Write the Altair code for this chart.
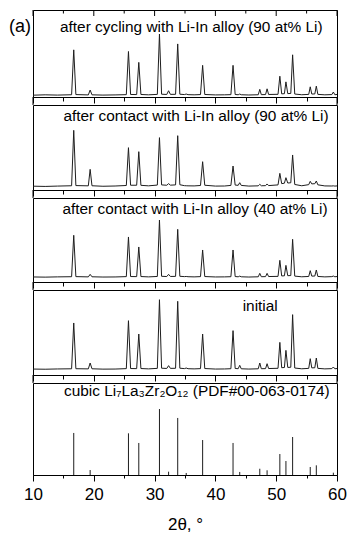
import altair as alt
import pandas as pd

# ---------------- data ----------------
# shared 2-theta grid (degrees) for the measured patterns
two_theta = [10.0, 12.0, 14.0, 16.35, 16.7, 17.05, 19.1, 19.4, 19.7, 21.5,
             23.5, 25.35, 25.7, 26.05, 27.05, 27.4, 27.75, 29.0, 30.45, 30.8,
             31.15, 32.0, 32.3, 32.6, 33.45, 33.8, 34.15, 34.9, 35.2, 35.5,
             36.5, 37.55, 37.9, 38.25, 40.0, 41.5, 42.55, 42.9, 43.25, 43.75,
             44.0, 44.25, 45.5, 47.05, 47.3, 47.55, 48.25, 48.5, 48.75, 50.3,
             50.6, 50.9, 51.35, 51.6, 51.9, 52.4, 52.7, 53.05, 54.2, 55.35,
             55.6, 55.85, 56.35, 56.6, 56.85, 58.0, 59.15, 59.4, 59.65, 60.0]

cycled_90 = [2.1, 2.5, 2.2, 2.6, 54.2, 2.8, 2.4, 8.0, 2.5, 2.2,
             2.4, 2.7, 52.3, 2.9, 2.8, 39.8, 2.9, 2.5, 3.0, 72.4,
             3.2, 2.9, 7.2, 3.0, 3.1, 61.0, 3.2, 2.8, 3.4, 2.7,
             2.5, 2.8, 36.4, 2.9, 2.4, 2.5, 2.7, 36.4, 2.9, 2.6,
             3.4, 2.6, 2.3, 2.6, 8.8, 2.7, 2.8, 9.4, 2.9, 3.1,
             23.9, 3.6, 3.8, 17.4, 3.9, 4.1, 48.5, 3.4, 2.6, 3.0,
             11.7, 3.4, 3.5, 12.5, 3.0, 2.5, 2.8, 5.7, 2.6, 2.9]

contact_90 = [4.5, 4.2, 4.6, 5.0, 70.2, 5.2, 4.9, 24.3, 5.0, 4.4,
              4.7, 5.3, 49.8, 5.6, 5.6, 45.1, 5.5, 4.9, 5.8, 61.6,
              6.0, 5.6, 7.5, 5.7, 6.0, 63.9, 6.2, 5.1, 5.0, 4.9,
              4.8, 5.3, 33.3, 5.6, 4.6, 4.7, 5.4, 28.2, 5.8, 5.5,
              8.6, 5.4, 4.6, 4.9, 6.7, 5.0, 5.1, 7.1, 5.2, 6.0,
              19.6, 7.5, 8.0, 14.5, 8.2, 8.5, 41.2, 6.5, 5.0, 6.3,
              10.2, 7.2, 7.4, 10.6, 6.1, 4.8, 4.7, 4.9, 4.6, 4.8]

contact_40 = [6.0, 5.8, 6.1, 6.3, 55.6, 6.4, 6.1, 9.1, 6.2, 5.9,
              6.0, 6.4, 53.6, 6.5, 6.4, 41.7, 6.5, 6.1, 6.6, 73.8,
              6.8, 6.5, 9.1, 6.6, 6.7, 62.7, 6.8, 6.4, 6.6, 6.3,
              6.1, 6.4, 38.1, 6.5, 6.0, 6.1, 6.3, 38.1, 6.5, 6.2,
              7.0, 6.2, 5.9, 6.2, 10.3, 6.3, 6.4, 10.3, 6.5, 6.7,
              25.8, 7.2, 7.4, 19.8, 7.5, 7.7, 50.8, 7.0, 6.2, 6.6,
              13.5, 7.0, 7.1, 14.3, 6.6, 6.1, 6.4, 7.1, 6.2, 6.5]

initial = [7.0, 6.8, 7.1, 7.3, 61.2, 7.4, 7.2, 14.1, 7.3, 6.9,
           7.0, 7.5, 63.9, 7.6, 7.5, 48.2, 7.6, 7.2, 7.8, 88.6,
           8.0, 7.7, 11.0, 7.8, 7.9, 86.7, 8.0, 7.5, 8.2, 7.4,
           7.2, 7.5, 48.2, 7.6, 7.0, 7.1, 7.4, 52.2, 7.7, 7.4,
           11.4, 7.3, 7.0, 7.3, 14.1, 7.4, 7.5, 13.3, 7.6, 7.9,
           38.4, 8.6, 8.8, 29.0, 8.9, 9.1, 71.0, 8.2, 7.3, 7.8,
           19.2, 8.4, 8.5, 20.0, 7.8, 7.2, 7.5, 9.4, 7.3, 7.6]

# reference stick pattern (cubic LLZO, PDF#00-063-0174)
ref_two_theta = [16.7, 19.4, 25.7, 27.4, 30.8, 32.3, 33.8, 35.2, 37.9, 42.9,
                 44.0, 47.3, 48.5, 50.6, 51.6, 52.7, 55.6, 56.6, 59.4]
ref_intensity = [45.7, 5.4, 45.3, 34.8, 71.7, 3.6, 62.0, 2.2, 38.0, 34.8,
                 3.3, 6.8, 5.1, 22.8, 15.2, 41.3, 8.7, 10.5, 2.5]

panel_labels = ["after cycling with Li-In alloy (90 at% Li)",
                "after contact with Li-In alloy (90 at% Li)",
                "after contact with Li-In alloy (40 at% Li)",
                "initial",
                "cubic Li\u2087La\u2083Zr\u2082O\u2081\u2082 (PDF#00-063-0174)"]

major_ticks = [10, 20, 30, 40, 50, 60]
minor_ticks = [15, 25, 35, 45, 55]
all_ticks = [10, 15, 20, 25, 30, 35, 40, 45, 50, 55, 60]
x_title = "2\u03b8, \u00b0"
panel_tag = "(a)"

# ---------------- layout / style ----------------
W = 304
GAP = 8
FONT = "Liberation Sans"
INK = "#1e1e1e"
X_SCALE = alt.Scale(domain=[10, 60], nice=False, zero=False)
Y_SCALE = alt.Scale(domain=[0, 100], nice=False, zero=False)


def x_axis(show_labels, minor_len):
    kw = dict(values=all_ticks, grid=False, domain=True, domainColor="black",
              domainWidth=1, tickColor="black", tickWidth=1,
              tickSize={"condition": {"test": "datum.value % 10 === 0", "value": 6},
                        "value": minor_len})
    if show_labels:
        kw.update(labels=True, labelExpr="datum.value % 10 === 0 ? datum.label : ''",
                  labelFlush=False, labelOverlap=False, labelBound=False,
                  labelFont=FONT, labelFontSize=17, labelColor="black", labelPadding=5,
                  title=x_title, titleFont=FONT, titleFontSize=17,
                  titleFontWeight="normal", titleColor="black", titlePadding=14)
    else:
        kw.update(labels=False, title=None)
    return alt.Axis(**kw)


def side_lines(H):
    one = pd.DataFrame({"s": [0]})
    left = alt.Chart(one).mark_rule(color="black", strokeWidth=1).encode(
        x=alt.value(0), y=alt.value(H), y2=alt.value(H + GAP))
    right = alt.Chart(one).mark_rule(color="black", strokeWidth=1).encode(
        x=alt.value(W), y=alt.value(H), y2=alt.value(H + GAP))
    return [left, right]


def label_layer(text, tx, ty, size=15.4):
    return alt.Chart(pd.DataFrame({"t": [text]})).mark_text(
        align="left", baseline="alphabetic", font=FONT, fontSize=size, color="black"
    ).encode(text="t:N", x=alt.value(tx), y=alt.value(ty))


def pattern_panel(values, text, tx, ty, H, first=False):
    ax = x_axis(False, 4)
    df = pd.DataFrame({"two_theta": two_theta, "intensity": values})
    line = alt.Chart(df).mark_line(color=INK, strokeWidth=1).encode(
        x=alt.X("two_theta:Q", scale=X_SCALE, axis=ax),
        y=alt.Y("intensity:Q", scale=Y_SCALE, axis=None))
    layers = [line, label_layer(text, tx, ty)] + side_lines(H)
    if first:
        maj = alt.Chart(pd.DataFrame({"two_theta": major_ticks})).mark_rule(
            color="black", strokeWidth=1).encode(
            x=alt.X("two_theta:Q", scale=X_SCALE, axis=ax),
            y=alt.value(0), y2=alt.value(6))
        mnr = alt.Chart(pd.DataFrame({"two_theta": minor_ticks})).mark_rule(
            color="black", strokeWidth=1).encode(
            x=alt.X("two_theta:Q", scale=X_SCALE, axis=ax),
            y=alt.value(0), y2=alt.value(3.5))
        tag = alt.Chart(pd.DataFrame({"t": [panel_tag]})).mark_text(
            align="left", baseline="alphabetic", font=FONT, fontSize=18, color="black"
        ).encode(text="t:N", x=alt.value(-24), y=alt.value(22))
        layers += [maj, mnr, tag]
    return alt.layer(*layers).properties(width=W, height=H)


p1 = pattern_panel(cycled_90, panel_labels[0], 27, 21.7, 87, first=True)
p2 = pattern_panel(contact_90, panel_labels[1], 30.4, 15.5, 85)
p3 = pattern_panel(contact_40, panel_labels[2], 29.4, 16.3, 84)
p4 = pattern_panel(initial, panel_labels[3], 209.7, 20.7, 85)

ref_df = pd.DataFrame({"two_theta": ref_two_theta, "intensity": ref_intensity})
sticks = alt.Chart(ref_df).mark_rule(color=INK, strokeWidth=1).encode(
    x=alt.X("two_theta:Q", scale=X_SCALE, axis=x_axis(True, 3)),
    y=alt.Y("intensity:Q", scale=Y_SCALE, axis=None),
    y2=alt.datum(0))
p5 = alt.layer(sticks, label_layer(panel_labels[4], 31, 12.5)).properties(width=W, height=92)

chart = alt.vconcat(p1, p2, p3, p4, p5, spacing=GAP, bounds="flush").properties(
    padding={"left": 0, "top": 1, "right": 2, "bottom": 2},
    background="white",
).configure_view(stroke="black", strokeWidth=1)

chart.save("out.html", embed_options={"renderer": "svg", "actions": False})
